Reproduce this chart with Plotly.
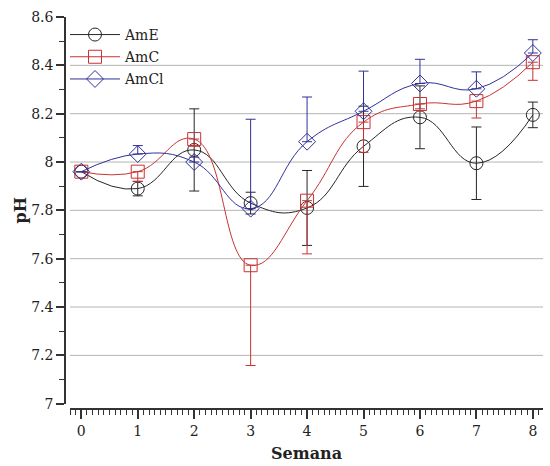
import plotly.graph_objects as go

semana = [0, 1, 2, 3, 4, 5, 6, 7, 8]
grid_vals = [7.2, 7.4, 7.6, 7.8, 8.0, 8.2, 8.4]

ame = [7.96, 7.89, 8.05, 7.83, 7.81, 8.065, 8.185, 7.995, 8.195]
ame_err = [0.0, 0.03, 0.17, 0.045, 0.155, 0.166, 0.13, 0.15, 0.053]

amc = [7.96, 7.96, 8.095, 7.573, 7.84, 8.165, 8.24, 8.252, 8.413]
amc_err_minus = [0.0, 0.04, 0.03, 0.415, 0.22, 0.125, 0.02, 0.07, 0.075]

amcl = [7.96, 8.033, 8.0, 7.807, 8.084, 8.21, 8.325, 8.303, 8.451]
amcl_err_plus = [0.0, 0.035, 0.02, 0.37, 0.185, 0.166, 0.10, 0.07, 0.055]

FONT = "DejaVu Serif"
zeros = [0.0] * len(semana)

series = [
    ("AmE", ame, ame_err, ame_err, "#262626", "circle-open"),
    ("AmC", amc, zeros, amc_err_minus, "#c83232", "square-open"),
    ("AmCl", amcl, amcl_err_plus, zeros, "#30309a", "diamond-open"),
]

fig = go.Figure()
for name, vals, eplus, eminus, col, sym in series:
    fig.add_trace(go.Scatter(
        x=semana, y=vals, name=name, legendgroup=name, mode="lines+markers",
        line=dict(color=col, width=1, shape="spline", smoothing=1.3),
        marker=dict(symbol=sym, size=13, color=col, line=dict(color=col, width=1)),
        error_y=dict(type="data", symmetric=False, array=eplus, arrayminus=eminus,
                     visible=True, color=col, thickness=1, width=5),
    ))

for g in grid_vals:
    fig.add_shape(type="line", xref="x domain", yref="y", x0=0, x1=1, y0=g, y1=g,
                  line=dict(color="#b4b4b4", width=1), layer="below")

fig.update_layout(
    width=550, height=466,
    margin=dict(l=65, r=7, t=17, b=55),
    paper_bgcolor="white", plot_bgcolor="white",
    font=dict(family=FONT, size=14, color="#222222"),
    showlegend=True,
    legend=dict(x=0.0, y=0.995, xanchor="left", yanchor="top",
                bgcolor="rgba(0,0,0,0)", font=dict(family=FONT, size=14),
                itemwidth=50, tracegroupgap=1, traceorder="grouped"),
    xaxis=dict(
        range=[-0.2, 8.18], domain=[0.0105, 1], anchor="free", position=0,
        tickvals=semana, showgrid=False, zeroline=False,
        showline=True, linecolor="#333333", linewidth=1.5,
        ticks="outside", ticklen=9, tickcolor="#333333", tickwidth=1.5,
        minor=dict(dtick=0.1, tick0=0, ticks="outside", ticklen=5, tickcolor="#333333", tickwidth=1),
        title=dict(text="<b>Semana</b>", font=dict(family=FONT, size=16), standoff=9),
        tickfont=dict(family=FONT, size=14),
    ),
    yaxis=dict(
        range=[7, 8.6], domain=[0.0135, 1], anchor="free", position=0,
        dtick=0.2, tick0=7, showgrid=False, zeroline=False,
        showline=True, linecolor="#333333", linewidth=1.5,
        ticks="outside", ticklen=8, tickcolor="#333333", tickwidth=1.5,
        minor=dict(dtick=0.1, tick0=7, ticks="outside", ticklen=5, tickcolor="#333333", tickwidth=1, showgrid=False),
        title=dict(text="<b>pH</b>", font=dict(family=FONT, size=16), standoff=0),
        tickfont=dict(family=FONT, size=14),
    ),
)

fig.write_html("out.html")
